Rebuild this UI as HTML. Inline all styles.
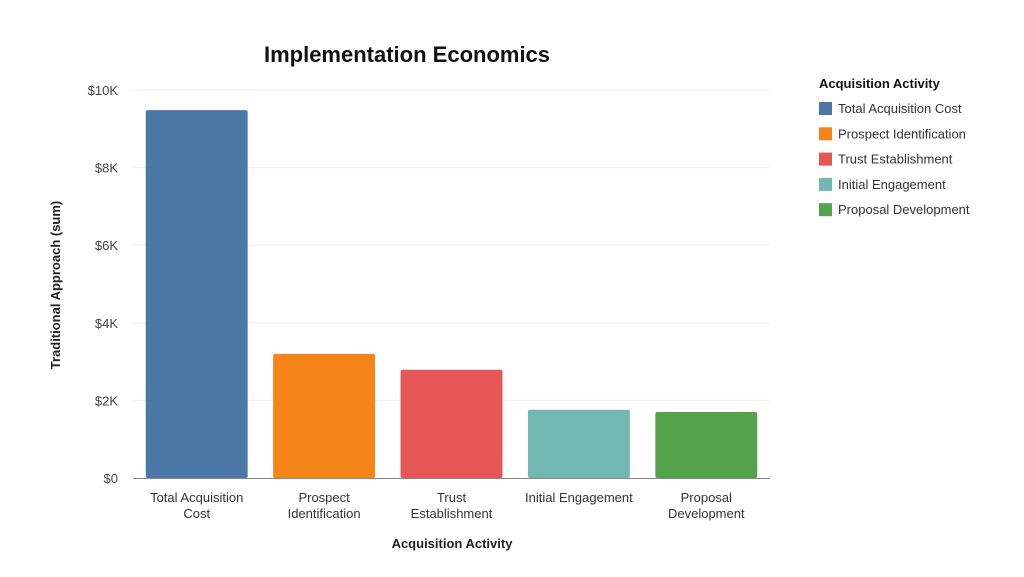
<!DOCTYPE html>
<html><head><meta charset="utf-8"><style>
body{margin:0;background:#fff;font-family:"Liberation Sans",sans-serif}
svg text{font-family:"Liberation Sans",sans-serif}
</style></head><body>
<svg id="chart" width="1024" height="572" xmlns="http://www.w3.org/2000/svg">
<rect width="1024" height="572" fill="#fff"/>
<text x="407" y="62" text-anchor="middle" font-size="22" font-weight="bold" fill="#111">Implementation Economics</text>
<text transform="translate(60,285) rotate(-90)" text-anchor="middle" font-size="13" font-weight="bold" fill="#222">Traditional Approach (sum)</text>
<text x="452" y="548" text-anchor="middle" font-size="13" font-weight="bold" fill="#222">Acquisition Activity</text>
<g id="grid"></g><g id="bars"></g><g id="xlabels"></g>
<line x1="133" x2="770" y1="478.5" y2="478.5" stroke="#888"/>
<g id="legend">
<text x="819" y="88" font-size="13" font-weight="bold" fill="#111">Acquisition Activity</text>
</g>
</svg>
<script>
const categories=["Total Acquisition Cost","Prospect Identification","Trust Establishment","Initial Engagement","Proposal Development"];
const labelLines=[["Total Acquisition","Cost"],["Prospect","Identification"],["Trust","Establishment"],["Initial Engagement"],["Proposal","Development"]];
const values=[9480,3200,2790,1760,1700];
const colors=["#4c78a8","#f58518","#e45756","#72b7b2","#54a24b"];
const ticks=[0,2000,4000,6000,8000,10000];
const tickLabels=["$0","$2K","$4K","$6K","$8K","$10K"];
const NS="http://www.w3.org/2000/svg";
const x0=133,x1=770,yBase=478,yTop=90,maxV=10000;
const y=v=>yBase-(v/maxV)*(yBase-yTop);
const band=(x1-x0)/categories.length;
function mk(t,a,p){const e=document.createElementNS(NS,t);for(const k in a)e.setAttribute(k,a[k]);p.appendChild(e);return e;}
const grid=document.getElementById('grid');
ticks.forEach((t,i)=>{
 const l=mk('line',{x1:x0,x2:x1,y1:y(t),y2:y(t),stroke:'#eeeeee'},grid);
 
 
 const tx=mk('text',{x:118,y:y(t)+5,'text-anchor':'end','font-size':13,fill:'#444'},grid);
 tx.textContent=tickLabels[i];
 
 
});
const bars=document.getElementById('bars'),xl=document.getElementById('xlabels'),lg=document.getElementById('legend');
values.forEach((v,i)=>{
 const bx=x0+band*i+band*0.1,bw=band*0.8;
 const r=mk('rect',{x:bx,y:y(v),width:bw,height:yBase-y(v),fill:colors[i],rx:2},bars);
 
 
 const t=mk('text',{x:x0+band*(i+0.5),y:502,'text-anchor':'middle','font-size':13,fill:'#333'},xl);
 
 
 labelLines[i].forEach((s,j)=>{const ts=mk('tspan',{x:x0+band*(i+0.5),dy:j?16:0},t);ts.textContent=s;});
 const ly=108+i*25.3;
 const sq=mk('rect',{x:819,y:ly-6,width:13,height:13,fill:colors[i]},lg);
 
 
 const lt=mk('text',{x:838,y:ly+5,'font-size':13,fill:'#333'},lg);
 lt.textContent=categories[i];
 
 
});
</script>
</body></html>
